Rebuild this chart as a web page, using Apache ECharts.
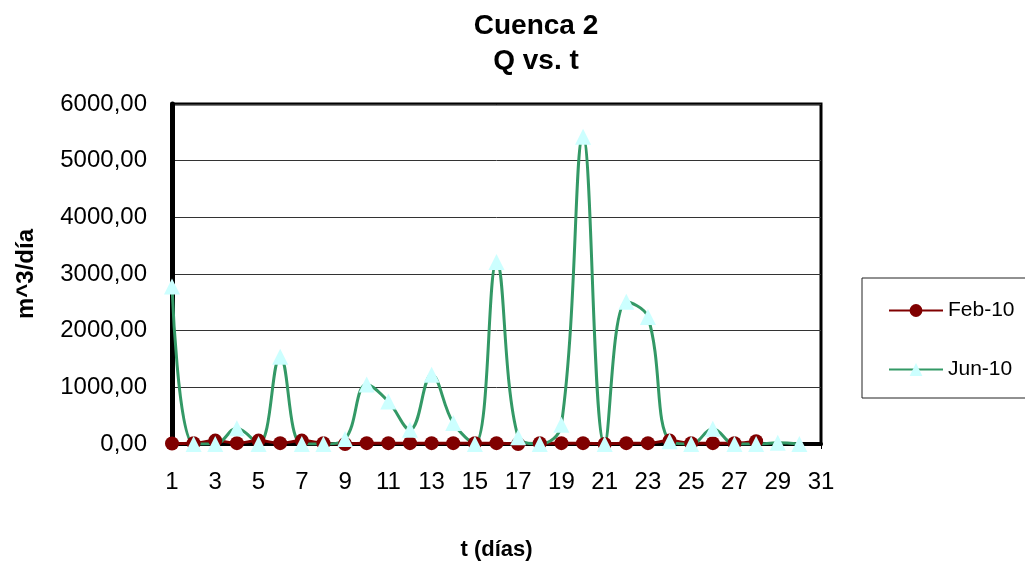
<!DOCTYPE html>
<html>
<head>
<meta charset="utf-8">
<script src="https://cdn.jsdelivr.net/npm/echarts@6/dist/echarts.min.js"></script>
<style>
  html, body { margin: 0; padding: 0; background: #fff; }
  #chart { width: 1025px; height: 563px; }
</style>
</head>
<body>
<div id="chart"></div>
<script>
const days = Array.from({ length: 31 }, (_, i) => String(i + 1));

// Feb-10 (28 días), caudales casi nulos
const feb10 = [10, 15, 60, 15, 60, 15, 60, 15, 0, 15, 15, 15, 15, 15,
  15, 15, 0, 15, 15, 15, 0, 15, 15, 60, 15, 15, 15, 50];

// Jun-10 (30 días)
const jun10 = [2780, 0, 0, 280, 0, 1540, 0, 0, 90, 1050, 750, 250, 1220, 370,
  0, 3210, 120, 0, 340, 5420, 0, 2510, 2240, 50, 0, 270, 0, 0, 20, 0];

const fmt = v => v.toFixed(2).replace('.', ',');

const chart = echarts.init(document.getElementById('chart'));
const font = 'Liberation Sans, Arial, sans-serif';

chart.setOption({
  backgroundColor: '#fff',
  animation: false,
  textStyle: { fontFamily: font },
  title: {
    text: 'Cuenca 2\nQ vs. t',
    left: 531,
    textAlign: 'center',
    top: 4,
    textStyle: { fontSize: 28, fontWeight: 'bold', color: '#000', lineHeight: 35, fontFamily: font },
  },
  grid: {
    left: 172, right: 204, top: 104, bottom: 119,
    outerBoundsMode: 'none',
    show: true, borderColor: '#000', borderWidth: 3, backgroundColor: '#fff',
  },
  legend: {
    orient: 'vertical',
    left: 862, top: 278,
    padding: [22, 60, 18, 26],
    itemGap: 38,
    itemWidth: 54, itemHeight: 16,
    borderColor: '#222', borderWidth: 1,
    textStyle: { fontSize: 21, color: '#000', fontFamily: font },
    data: ['Feb-10', 'Jun-10'],
  },
  xAxis: {
    type: 'category',
    data: days,
    boundaryGap: false,
    name: 't (días)',
    nameLocation: 'middle',
    nameGap: 95,
    nameTextStyle: { fontSize: 22, fontWeight: 'bold', color: '#000' },
    axisLine: { lineStyle: { color: '#000', width: 4 } },
    axisTick: { interval: 1, length: 5, lineStyle: { color: '#000' } },
    axisLabel: { interval: 1, fontSize: 24, color: '#000', margin: 26 },
  },
  yAxis: {
    type: 'value',
    min: 0, max: 6000, interval: 1000,
    name: 'm^3/día',
    nameLocation: 'middle',
    nameGap: 134,
    nameTextStyle: { fontSize: 24, fontWeight: 'bold', color: '#000' },
    axisLine: { show: true, lineStyle: { color: '#000', width: 5 } },
    axisTick: { show: false },
    axisLabel: { fontSize: 24, color: '#000', margin: 25, formatter: fmt },
    splitLine: { lineStyle: { color: '#333', width: 1 } },
  },
  series: [
    {
      name: 'Feb-10',
      type: 'line',
      data: feb10,
      smooth: 0.4,
      symbol: 'circle',
      symbolSize: 14,
      showAllSymbol: true,
      lineStyle: { color: '#800000', width: 3 },
      itemStyle: { color: '#800000' },
    },
    {
      name: 'Jun-10',
      type: 'line',
      data: jun10,
      smooth: 0.4,
      symbol: 'triangle',
      symbolSize: 16,
      showAllSymbol: true,
      lineStyle: { color: '#339966', width: 3 },
      itemStyle: { color: '#ccffff' },
    },
  ],
});
</script>
</body>
</html>
